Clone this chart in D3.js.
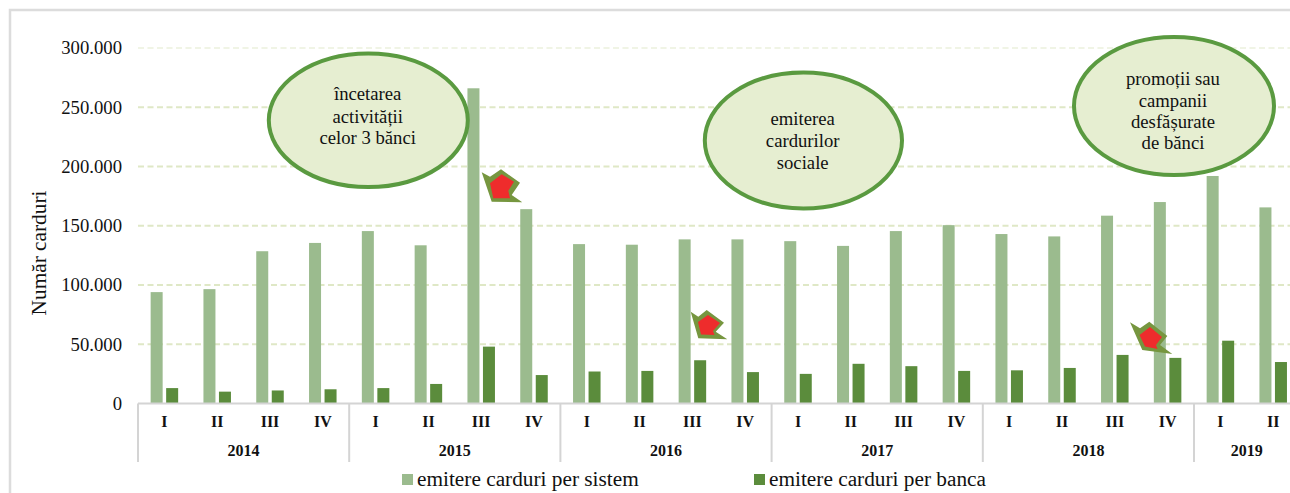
<!DOCTYPE html>
<html>
<head>
<meta charset="utf-8">
<script src="https://cdn.jsdelivr.net/npm/d3@7"></script>
<style>
body { margin: 0; background: #fff; }
svg { display: block; }
text { font-family: "Liberation Serif", serif; fill: #111; }
.axis text { font-size: 18.7px; }
.quarter, .year { font-size: 16px; font-weight: bold; text-anchor: middle; }
.note { font-size: 18.7px; text-anchor: middle; }
.legend { font-size: 21.3px; }
</style>
</head>
<body>
<svg id="chart" width="1290" height="493"></svg>
<script>
var years = ["2014", "2015", "2016", "2017", "2018", "2019"];
var quartersPerYear = [4, 4, 4, 4, 4, 2];
var quarterNames = ["I", "II", "III", "IV"];
var seriesNames = ["emitere carduri per sistem", "emitere carduri per banca"];
var perSistem = [94000, 96500, 128500, 135500, 145500, 133500, 266000, 164000, 134500, 134000, 138500, 138500, 137000, 133000, 145500, 150500, 143000, 141000, 158500, 170000, 192000, 165500];
var perBanca = [13000, 10000, 11000, 12000, 13000, 16500, 48000, 24000, 27000, 27500, 36500, 26500, 25000, 33500, 31500, 27500, 28000, 30000, 41000, 38500, 53000, 35000];
var colors = ["#9bbb8e", "#5b8c3c"];

var svg = d3.select("#chart");

// frame of the original picture, only top and left show
svg.append("path").attr("d", "M10,493V10H1290").attr("fill", "none").attr("stroke", "#dcdcdc").attr("stroke-width", 2.5);

var labels = [];
years.forEach(function(y, i) {
  d3.range(quartersPerYear[i]).forEach(function(q) {
    labels.push({ year: y, quarter: quarterNames[q] });
  });
});
var idx = d3.range(labels.length);

var xScale = d3.scaleBand().domain(idx).range([138, 138 + 22 * 52.8]).paddingInner(0.479).paddingOuter(0.2395);
var xInner = d3.scaleBand().domain([0, 1]).range([0, xScale.bandwidth()]).paddingInner(0.226);
var yScale = d3.scaleLinear().domain([0, 300000]).range([403.5, 48]);
var step = xScale.step();

// gridlines
svg.append("g").selectAll("line").data(yScale.ticks(6).filter(function(d) { return d > 0; }))
  .enter().append("line")
  .attr("x1", 138).attr("x2", 1290)
  .attr("y1", function(d) { return yScale(d); })
  .attr("y2", function(d) { return yScale(d); })
  .attr("stroke", "#dfe8c6")
  .attr("stroke-width", 2)
  .attr("stroke-dasharray", "6 3.5")
  .attr("opacity", function(d) { return d == 300000 ? 0.45 : 1; });

// y axis
var yAxis = svg.append("g").attr("class", "axis").attr("transform", "translate(138, 0)")
  .call(d3.axisLeft(yScale).ticks(6).tickSize(0).tickPadding(16).tickFormat(function(d) {
    return d3.format(",")(d).replace(/,/g, ".");
  }));
yAxis.select(".domain").remove();

svg.append("text").attr("transform", "translate(46, 253) rotate(-90)")
  .attr("text-anchor", "middle").style("font-size", "21.3px").text("Număr carduri");

// bars
[perSistem, perBanca].forEach(function(values, s) {
  svg.append("g").selectAll("rect").data(values).enter().append("rect")
    .attr("x", function(d, i) { return xScale(i) + xInner(s); })
    .attr("y", function(d) { return yScale(d); })
    .attr("width", xInner.bandwidth())
    .attr("height", function(d) { return yScale(0) - yScale(d); })
    .attr("fill", colors[s]);
});

// multi level category axis
var axisCol = "#d4d4d4";
svg.append("line").attr("x1", 138).attr("x2", 1290).attr("y1", yScale(0)).attr("y2", yScale(0))
  .attr("stroke", axisCol).attr("stroke-width", 2);

svg.append("g").selectAll("text").data(labels).enter().append("text")
  .attr("class", "quarter")
  .attr("x", function(d, i) { return xScale(i) + xScale.bandwidth() / 2; })
  .attr("y", 427)
  .text(function(d) { return d.quarter; });

var start = 0;
var bounds = [0];
years.forEach(function(y, i) {
  var x0 = 138 + start * step;
  var x1 = 138 + (start + quartersPerYear[i]) * step;
  svg.append("text").attr("class", "year").attr("x", (x0 + x1) / 2).attr("y", 456).text(y);
  start += quartersPerYear[i];
  bounds.push(start);
});
svg.append("g").selectAll("line").data(bounds.slice(0, 6)).enter().append("line")
  .attr("x1", function(d) { return 138 + d * step; })
  .attr("x2", function(d) { return 138 + d * step; })
  .attr("y1", yScale(0)).attr("y2", 462)
  .attr("stroke", axisCol).attr("stroke-width", 2);

// callouts
var notes = [
  { cx: 368.3, cy: 120.3, rx: 99.5, ry: 66.8, tx: 367.7, lines: ["încetarea", "activității", "celor 3 bănci"], base: [100, 122.5, 144] },
  { cx: 803.4, cy: 140.5, rx: 98.6, ry: 68, tx: 802.7, lines: ["emiterea", "cardurilor", "sociale"], base: [125, 147, 169] },
  { cx: 1174, cy: 106, rx: 100, ry: 69, tx: 1173, lines: ["promoții sau", "campanii", "desfășurate", "de bănci"], base: [85, 106.5, 128, 149] }
];
notes.forEach(function(n) {
  svg.append("ellipse").attr("cx", n.cx).attr("cy", n.cy).attr("rx", n.rx).attr("ry", n.ry)
    .attr("fill", "#e6eed1").attr("stroke", "#5a9a40").attr("stroke-width", 4);
  n.lines.forEach(function(l, i) {
    svg.append("text").attr("class", "note").attr("x", n.tx).attr("y", n.base[i]).text(l);
  });
});

// red markers
var markers = [
  { outer: "481.7,172.3 490,176.7 501,169.3 520,182.7 511.7,195 522.3,202.3 491.7,201.7", inner: "490,183.3 501.7,174.3 514,181.7 508.3,190.7 510,198.3 493.3,198.3" },
  { outer: "690.7,311.7 698.3,316.7 706.7,310 724,322.7 715.7,331.7 727.3,339.3 698.3,338.3", inner: "698,322 708,315 720,323 713,331 714.5,335 701,334.5" },
  { outer: "1130,322.3 1140,328.3 1149.3,321.7 1167.3,336 1160,345 1172.3,354 1142.3,350", inner: "1139.5,335 1150,327 1162,337 1156,345 1157.5,349 1145,346.5" }
];
markers.forEach(function(m) {
  svg.append("polygon").attr("points", m.outer).attr("fill", "#76963f");
  svg.append("polygon").attr("points", m.inner).attr("fill", "#ee2c2c");
});

// legend
var legendX = [402, 754];
seriesNames.forEach(function(name, s) {
  svg.append("rect").attr("x", legendX[s]).attr("y", 474).attr("width", 11).attr("height", 11).attr("fill", colors[s]);
  svg.append("text").attr("class", "legend").attr("x", legendX[s] + 15).attr("y", 486).text(name);
});
</script>
</body>
</html>
